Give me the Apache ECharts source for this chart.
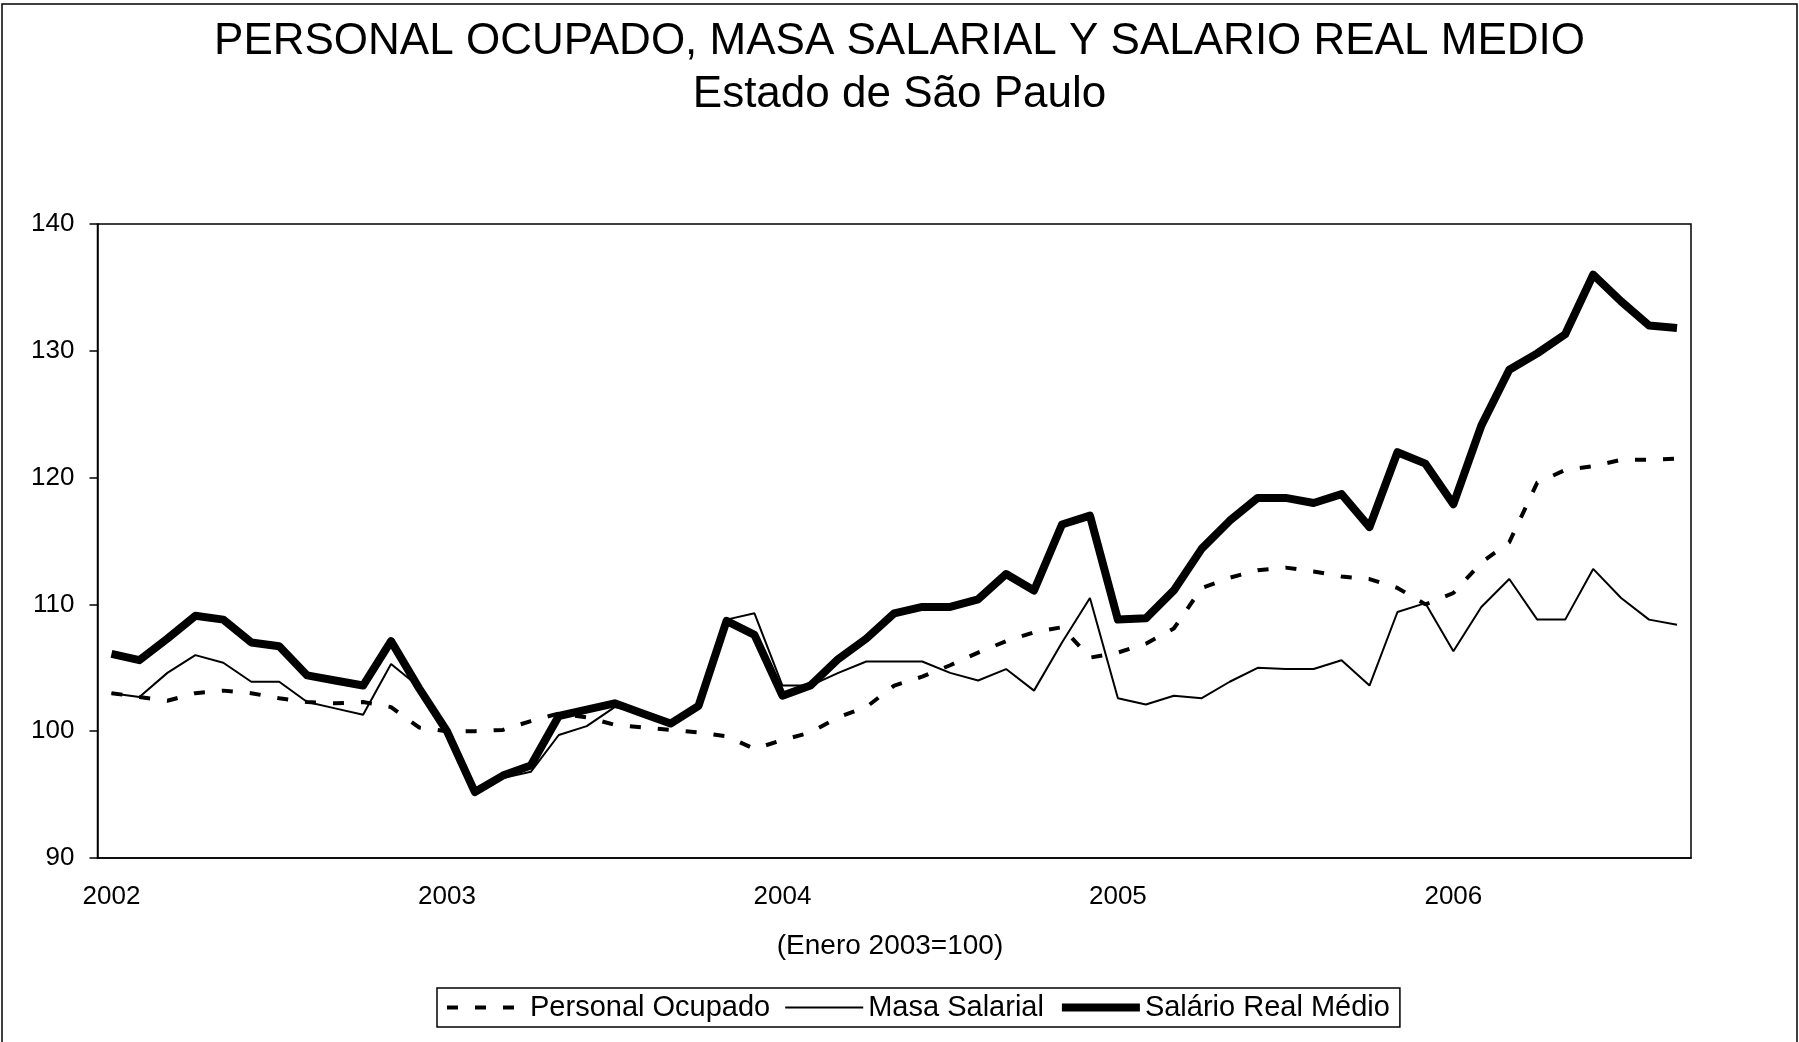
<!DOCTYPE html>
<html>
<head>
<meta charset="utf-8">
<title>Personal ocupado, masa salarial y salario real medio</title>
<script src="https://cdn.jsdelivr.net/npm/echarts@6/dist/echarts.min.js"></script>
<style>
  html, body { margin: 0; padding: 0; background: #fff; }
  #chart { width: 1799px; height: 1042px; }
</style>
</head>
<body>
<div id="chart"></div>
<script>
  // years shown on the x axis, one category per month (Jan 2002 .. Sep 2006)
  const years = ['2002', '2003', '2004', '2005', '2006']
  const nMonths = 57

  // Enero 2003 = 100
  const personalOcupado = [103.0, 102.7, 102.4, 103.0, 103.2, 103.0, 102.6, 102.3, 102.2, 102.3, 101.9, 100.3,
    100.0, 100.0, 100.1, 100.8, 101.4, 101.1, 100.5, 100.3, 100.1, 99.9, 99.6, 98.6,
    99.3, 99.9, 101.1, 101.9, 103.6, 104.3, 105.2, 106.2, 107.1, 107.8, 108.2, 105.8,
    106.2, 106.9, 108.1, 111.3, 112.1, 112.7, 112.9, 112.6, 112.2, 112.0, 111.3, 110.0,
    110.9, 113.3, 114.9, 119.6, 120.6, 120.9, 121.4, 121.4, 121.5]
  const masaSalarial = [103.0, 102.7, 104.6, 106.0, 105.4, 103.9, 103.9, 102.3, 101.8, 101.3, 105.3, 103.5,
    100.0, 95.1, 96.3, 96.8, 99.7, 100.4, 101.9, 101.4, 100.6, 102.0, 108.8, 109.3,
    103.6, 103.6, 104.6, 105.5, 105.5, 105.5, 104.6, 104.0, 104.9, 103.2, 107.0, 110.5,
    102.6, 102.1, 102.8, 102.6, 103.9, 105.0, 104.9, 104.9, 105.6, 103.6, 109.4, 110.1,
    106.3, 109.8, 112.0, 108.8, 108.8, 112.8, 110.5, 108.8, 108.4]
  const salarioReal = [106.1, 105.6, 107.3, 109.1, 108.8, 107.0, 106.7, 104.4, 104.0, 103.6, 107.1, 103.4,
    100.0, 95.2, 96.5, 97.3, 101.2, 101.7, 102.2, 101.4, 100.6, 102.0, 108.7, 107.6,
    102.8, 103.6, 105.7, 107.3, 109.3, 109.8, 109.8, 110.4, 112.4, 111.1, 116.3, 117.0,
    108.8, 108.9, 111.1, 114.4, 116.6, 118.4, 118.4, 118.0, 118.7, 116.1, 122.0, 121.1,
    117.9, 124.1, 128.5, 129.8, 131.3, 136.0, 133.9, 132.0, 131.8]

  const months = []
  years.forEach(y => {
    for (let m = 1; m <= 12; m++) {
      months.push(y + '-' + (m < 10 ? '0' + m : m))
    }
  })
  const categories = months.slice(0, nMonths)

  const font = '"Liberation Sans", Arial, sans-serif'

  // line styles shared by series and legend
  const dashedStyle = { color: '#000', width: 4, type: [11, 17], cap: 'butt' }
  const thinStyle = { color: '#000', width: 2 }
  const thickStyle = { color: '#000', width: 8, join: 'round' }
  const noSymbol = { opacity: 0, borderWidth: 0 }

  const chart = echarts.init(document.getElementById('chart'))
  const option = {
    backgroundColor: '#fff',
    animation: false,
    textStyle: { fontFamily: font, color: '#000' },
    title: [
      {
        text: 'PERSONAL OCUPADO, MASA SALARIAL Y SALARIO REAL MEDIO',
        left: 'center',
        top: 20,
        padding: 0,
        textStyle: { fontSize: 44, fontWeight: 'normal', color: '#000', fontFamily: font }
      },
      {
        text: 'Estado de São Paulo',
        left: 'center',
        top: 73,
        padding: 0,
        textStyle: { fontSize: 44, fontWeight: 'normal', color: '#000', fontFamily: font }
      }
    ],
    graphic: [
      {
        type: 'rect',
        shape: { x: 2, y: 4, width: 1795, height: 1060 },
        style: { fill: null, stroke: '#000', lineWidth: 1.5 },
        silent: true
      },
      {
        type: 'text',
        x: 890,
        y: 946,
        style: {
          text: '(Enero 2003=100)',
          fontSize: 28,
          fontFamily: font,
          fill: '#000',
          align: 'center',
          verticalAlign: 'middle'
        }
      }
    ],
    legend: {
      left: 437,
      top: 988,
      orient: 'horizontal',
      padding: [5, 10, 5, 8],
      itemWidth: 78,
      itemHeight: 30,
      itemGap: 14,
      borderColor: '#000',
      borderWidth: 1.5,
      borderRadius: 0,
      itemStyle: noSymbol,
      textStyle: { fontSize: 29, color: '#000', fontFamily: font },
      data: [
        { name: 'Personal Ocupado', lineStyle: dashedStyle, itemStyle: noSymbol },
        { name: 'Masa Salarial', lineStyle: thinStyle, itemStyle: noSymbol },
        { name: 'Salário Real Médio', lineStyle: thickStyle, itemStyle: noSymbol }
      ]
    },
    grid: {
      left: 97.5,
      right: 108,
      top: 224,
      bottom: 184,
      show: true,
      borderColor: '#000',
      borderWidth: 1.5,
      containLabel: false
    },
    xAxis: {
      type: 'category',
      data: categories,
      boundaryGap: true,
      axisLine: { lineStyle: { color: '#000', width: 1.5 } },
      axisTick: { interval: 11, length: 8, lineStyle: { color: '#000', width: 1.5 } },
      axisLabel: {
        interval: 11,
        margin: 26,
        fontSize: 26,
        color: '#000',
        fontFamily: font,
        formatter: v => v.slice(0, 4)
      },
      splitLine: { show: false }
    },
    yAxis: {
      type: 'value',
      min: 90,
      max: 140,
      interval: 10,
      axisLine: { show: true, lineStyle: { color: '#000', width: 1.5 } },
      axisTick: { show: true, length: 8, lineStyle: { color: '#000', width: 1.5 } },
      axisLabel: { margin: 23, fontSize: 26, color: '#000', fontFamily: font },
      splitLine: { show: false }
    },
    series: [
      {
        name: 'Personal Ocupado',
        type: 'line',
        data: personalOcupado,
        symbol: 'none',
        lineStyle: dashedStyle,
        itemStyle: { color: '#000' },
        z: 2
      },
      {
        name: 'Masa Salarial',
        type: 'line',
        data: masaSalarial,
        symbol: 'none',
        lineStyle: thinStyle,
        itemStyle: { color: '#000' },
        z: 3
      },
      {
        name: 'Salário Real Médio',
        type: 'line',
        data: salarioReal,
        symbol: 'none',
        lineStyle: thickStyle,
        itemStyle: { color: '#000' },
        z: 4
      }
    ]
  }
  chart.setOption(option)
  window.addEventListener('resize', () => {
    chart.resize()
  })
</script>
</body>
</html>
